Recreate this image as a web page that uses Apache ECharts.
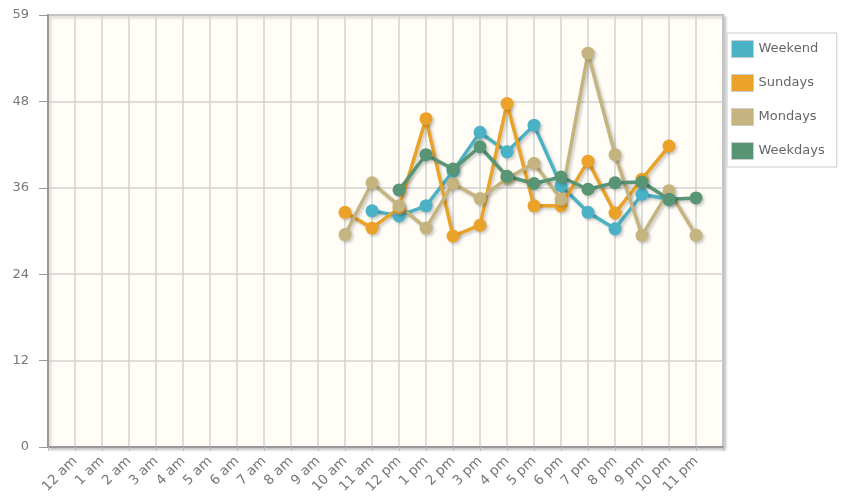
<!DOCTYPE html>
<html>
<head>
<meta charset="utf-8">
<script src="https://cdn.jsdelivr.net/npm/echarts@6/dist/echarts.min.js"></script>
<style>
  html, body { margin: 0; padding: 0; background: #fff; }
  #main { width: 841px; height: 499px; }
</style>
</head>
<body>
<div id="main"></div>
<script>
// hours of the day, one category each
var hours = ['12 am', '1 am', '2 am', '3 am', '4 am', '5 am', '6 am', '7 am', '8 am', '9 am', '10 am', '11 am',
             '12 pm', '1 pm', '2 pm', '3 pm', '4 pm', '5 pm', '6 pm', '7 pm', '8 pm', '9 pm', '10 pm', '11 pm'];

var e = null;
var weekend  = [e, e, e, e, e, e, e, e, e, e, e, 32.8, 32.1, 33.5, 38.3, 43.7, 41.0, 44.7, 36.3, 32.6, 30.3, 35.1, 34.4, e];
var sundays  = [e, e, e, e, e, e, e, e, e, e, 32.6, 30.4, 33.2, 45.6, 29.3, 30.8, 47.7, 33.5, 33.5, 39.7, 32.5, 37.2, 41.8, e];
var mondays  = [e, e, e, e, e, e, e, e, e, e, 29.5, 36.7, 33.5, 30.4, 36.6, 34.5, 37.3, 39.4, 34.4, 54.7, 40.6, 29.4, 35.6, 29.4];
var weekdays = [e, e, e, e, e, e, e, e, e, e, e, e, 35.7, 40.6, 38.6, 41.7, 37.6, 36.6, 37.5, 35.8, 36.7, 36.8, 34.4, 34.6];

var yTickLabels = ['0', '12', '24', '36', '48', '59'];

var seriesNames = ['Weekend', 'Sundays', 'Mondays', 'Weekdays'];
var seriesColors = ['#4bb2c5', '#EAA228', '#c5b47f', '#579575'];
var seriesValues = [weekend, sundays, mondays, weekdays];

// one empty slot each side so the hours sit inside the frame
var xCats = [''].concat(hours, ['']);

var chart = echarts.init(document.getElementById('main'));

var series = seriesNames.map(function (name, i) {
    return {
        name: name,
        type: 'line',
        data: [null].concat(seriesValues[i], [null]),
        symbol: 'circle',
        symbolSize: 13,
        connectNulls: false,
        lineStyle: {
            width: 3.5,
            color: seriesColors[i],
            shadowColor: 'rgba(0,0,0,0.2)',
            shadowOffsetX: 2,
            shadowOffsetY: 2,
            shadowBlur: 3
        },
        itemStyle: {
            color: seriesColors[i],
            shadowColor: 'rgba(0,0,0,0.2)',
            shadowOffsetX: 2,
            shadowOffsetY: 2,
            shadowBlur: 3
        },
        emphasis: { disabled: true }
    };
});

var option = {
    animation: false,
    color: seriesColors,
    grid: {
        left: 48,
        right: 118,
        top: 15,
        bottom: 52,
        show: true,
        backgroundColor: '#fffdf6',
        borderColor: '#999',
        borderWidth: 2,
        shadowColor: 'rgba(0,0,0,0.2)',
        shadowOffsetX: 2,
        shadowOffsetY: 2,
        shadowBlur: 3
    },
    legend: {
        orient: 'vertical',
        left: 727,
        top: 33,
        icon: 'rect',
        itemWidth: 22,
        itemHeight: 17,
        itemGap: 16,
        padding: [7, 12, 7, 4],
        borderColor: '#ccc',
        borderWidth: 1,
        backgroundColor: '#fff',
        itemStyle: { borderColor: '#ccc', borderWidth: 1 },
        textStyle: { color: '#666', fontSize: 13, fontFamily: 'DejaVu Sans' },
        data: seriesNames
    },
    xAxis: {
        type: 'category',
        boundaryGap: false,
        data: xCats,
        axisLine: { lineStyle: { color: '#999', width: 2 } },
        axisTick: { length: 4, lineStyle: { color: '#bbb' } },
        axisLabel: {
            interval: 0,
            rotate: 45,
            margin: 12,
            color: '#777',
            fontSize: 13.5,
            fontFamily: 'DejaVu Sans'
        },
        splitLine: { show: true, lineStyle: { color: '#d2d2d2', width: 1.5 } }
    },
    yAxis: {
        type: 'value',
        min: 0,
        max: 60,
        interval: 12,
        axisLine: { show: true, lineStyle: { color: '#999', width: 2 } },
        axisTick: { show: true, length: 9, lineStyle: { color: '#999' } },
        axisLabel: {
            margin: 19,
            color: '#777',
            fontSize: 13,
            fontFamily: 'DejaVu Sans',
            formatter: function (v, idx) { return yTickLabels[idx]; }
        },
        splitLine: { show: true, lineStyle: { color: '#d2d2d2', width: 1.5 } }
    },
    series: series
};

chart.setOption(option);
</script>
</body>
</html>
